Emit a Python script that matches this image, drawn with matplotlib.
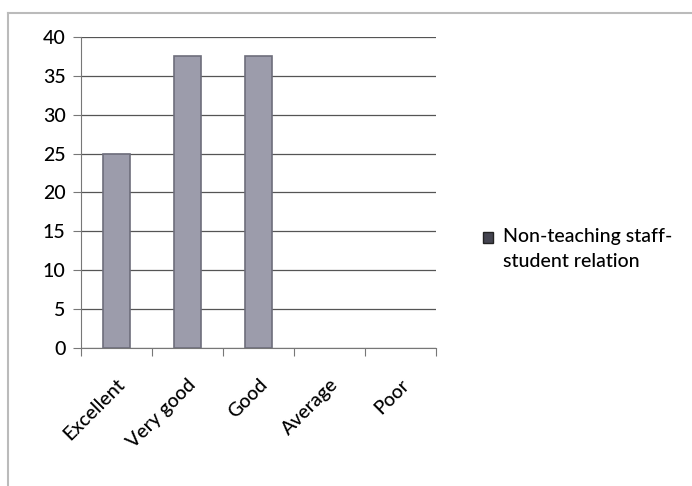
import matplotlib.pyplot as plt
from matplotlib.patches import Patch
from matplotlib.lines import Line2D

categories = ["Excellent", "Very good", "Good", "Average", "Poor"]
values = [25, 37.5, 37.5, 0, 0]
series_name = "Non-teaching staff-\nstudent relation"
yticks = [0, 5, 10, 15, 20, 25, 30, 35, 40]

plt.rcParams['font.family'] = ['Lato', 'DejaVu Sans']

fig = plt.figure(figsize=(6.92, 4.86), dpi=100)
ax = fig.add_axes([0.117, 0.284, 0.513, 0.640])

x = list(range(len(categories)))
edge_w = [1.2 if v > 0 else 0 for v in values]
ax.bar(x, values, width=0.38, color="#9c9cab", edgecolor="#6e6e7c", linewidth=edge_w, zorder=3)

ax.set_xlim(-0.5, len(categories) - 0.5)
ax.set_ylim(0, 40)
ax.set_yticks(yticks)
ax.yaxis.grid(True, color="#555555", linewidth=0.9, zorder=0)
ax.tick_params(axis="y", length=6, width=0.8, color="#777777", labelsize=14, pad=5)
for lab in ax.get_yticklabels():
    lab.set_fontweight("medium")

# category ticks sit on the boundaries, labels at the centres
ax.set_xticks([i - 0.5 for i in range(len(categories) + 1)])
ax.set_xticklabels([])
ax.set_xticks(x, minor=True)
ax.set_xticklabels(categories, minor=True, rotation=45, ha="right",
                   rotation_mode="anchor", fontsize=14, fontweight="medium")
ax.tick_params(axis="x", which="major", length=6, width=0.8, color="#777777")
ax.tick_params(axis="x", which="minor", length=0, pad=20)

for side in ["top", "right"]:
    ax.spines[side].set_visible(False)
ax.spines["left"].set_color("#777777")
ax.spines["bottom"].set_color("#777777")

handle = Patch(facecolor="#444450", edgecolor="#222222")
leg = fig.legend([handle], [series_name], loc="center left", bbox_to_anchor=(0.672, 0.488),
                 frameon=False, fontsize=14, handlelength=0.55, handleheight=0.55,
                 handletextpad=0.5)
for t in leg.get_texts():
    t.set_linespacing(1.6)
    t.set_fontweight("medium")
leg.legend_handles[0].set_y(9)

# outer chart frame
fig.add_artist(Line2D([8 / 692, 1.0], [1 - 13 / 486, 1 - 13 / 486],
                      transform=fig.transFigure, color="#bbbbbb", linewidth=1.5))
fig.add_artist(Line2D([8 / 692, 8 / 692], [0, 1 - 13 / 486],
                      transform=fig.transFigure, color="#bbbbbb", linewidth=1.5))

plt.savefig("out.png", dpi=100)
plt.close()
